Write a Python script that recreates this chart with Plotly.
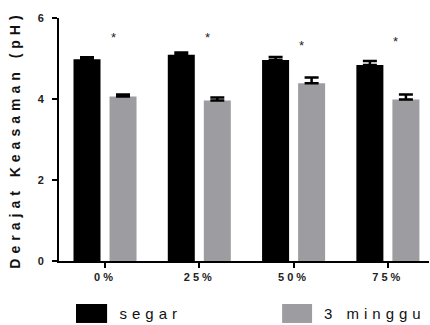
import plotly.graph_objects as go

categories = ["0%", "25%", "50%", "75%"]
segar = [4.98, 5.09, 4.96, 4.84]
segar_err = [0.05, 0.06, 0.08, 0.10]
minggu3 = [4.06, 3.96, 4.39, 3.99]
minggu3_err = [0.05, 0.08, 0.14, 0.12]
star_y = [5.58, 5.58, 5.38, 5.48]
series_names = ["segar", "3 minggu"]
y_ticks = [0, 2, 4, 6]

BLACK = "#000000"
GRAY = "#9d9da1"
FONT = "Liberation Sans, Arial, sans-serif"

fig = go.Figure()
fig.add_trace(go.Bar(
    x=categories, y=segar, name=series_names[0], marker=dict(color=BLACK, line=dict(width=0)),
    error_y=dict(type="data", array=segar_err, arrayminus=[0]*4, symmetric=False,
                 color=BLACK, thickness=2.5, width=7),
    showlegend=False))
fig.add_trace(go.Bar(
    x=categories, y=minggu3, name=series_names[1], marker=dict(color=GRAY, line=dict(width=0)),
    error_y=dict(type="data", array=minggu3_err, arrayminus=[0]*4, symmetric=False,
                 color=BLACK, thickness=2.5, width=7),
    showlegend=False))

for c, sy in zip(categories, star_y):
    fig.add_annotation(x=c, y=sy, text="*", showarrow=False, xshift=8, yshift=-2,
                       font=dict(family=FONT, size=13, color="#222"))

# legend drawn manually (large swatches)
fig.add_shape(type="rect", xref="paper", yref="paper", x0=0.046, x1=0.130, y0=-0.255, y1=-0.177,
              fillcolor=BLACK, line=dict(width=0))
fig.add_shape(type="rect", xref="paper", yref="paper", x0=0.603, x1=0.684, y0=-0.255, y1=-0.177,
              fillcolor=GRAY, line=dict(width=0))
fig.add_annotation(xref="paper", yref="paper", x=0.165, y=-0.214, text=series_names[0],
                   showarrow=False, xanchor="left", yanchor="middle", xshift=10,
                   font=dict(family=FONT, size=15, color="#111"))
fig.add_annotation(xref="paper", yref="paper", x=0.719, y=-0.214, text=series_names[1],
                   showarrow=False, xanchor="left", yanchor="middle", xshift=17,
                   font=dict(family=FONT, size=15, color="#111"))

fig.update_layout(
    width=430, height=325,
    margin=dict(l=59, r=1, t=18, b=64),
    paper_bgcolor="white", plot_bgcolor="white",
    barmode="group", bargap=0.236, bargroupgap=0.25,
    font=dict(family=FONT, color="#111"),
    xaxis=dict(range=[-0.488, 3.436], showline=True, linecolor=BLACK, linewidth=2,
               ticks="outside", ticklen=5, tickwidth=2, tickcolor=BLACK,
               tickfont=dict(family=FONT, size=11, weight=700, color="#222"),
               showgrid=False, zeroline=False, fixedrange=True),
    yaxis=dict(range=[0, 6], tickvals=y_ticks, showline=True, linecolor=BLACK, linewidth=2,
               ticks="outside", ticklen=5, tickwidth=2, tickcolor=BLACK,
               tickfont=dict(family=FONT, size=11, weight=700, color="#222"),
               ticklabelstandoff=6,
               title=dict(text="Derajat Keasaman (pH)", standoff=14,
                          font=dict(family=FONT, size=14, weight=700, color="#111")),
               showgrid=False, zeroline=False, fixedrange=True),
)

post = """
document.body.style.margin = '0';
document.body.style.padding = '0';
var gd = document.getElementById('{plot_id}');
function spacing(){
  gd.querySelectorAll('.ytitle').forEach(function(e){e.style.letterSpacing='5px';});
  gd.querySelectorAll('.xtick text').forEach(function(e){e.style.letterSpacing='3px';});
  gd.querySelectorAll('.annotation-text').forEach(function(e){
    if (e.textContent.length > 1) e.style.letterSpacing='5px';});
}
spacing();
"""
fig.write_html("out.html", post_script=post, config={"displayModeBar": False})
